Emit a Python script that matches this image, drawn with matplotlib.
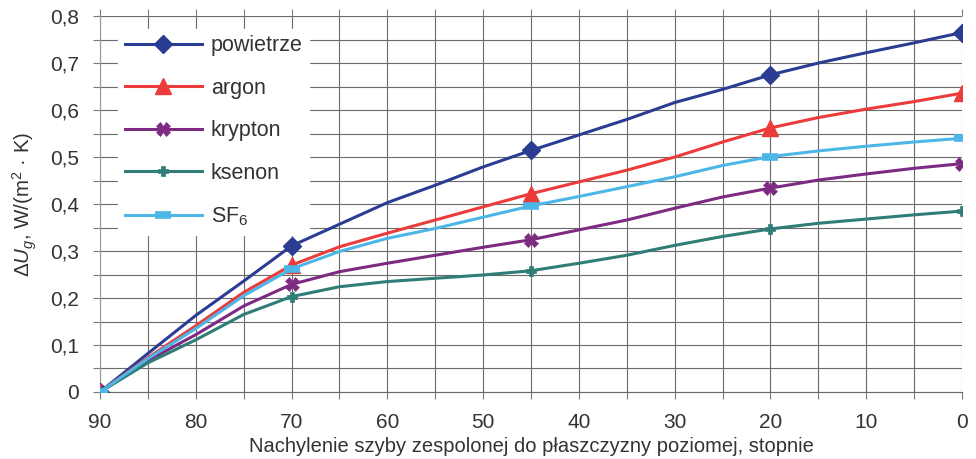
import numpy as np
import matplotlib
matplotlib.use("Agg")
from matplotlib import pyplot as plt
from matplotlib.ticker import MultipleLocator, FuncFormatter

plt.rcParams['font.family'] = ['Liberation Sans', 'DejaVu Sans']
plt.rcParams['mathtext.fontset'] = 'custom'
plt.rcParams['mathtext.rm'] = 'Liberation Sans'
plt.rcParams['mathtext.it'] = 'Liberation Sans:italic'

# tilt angle, degrees (read every 5 degrees off the curves)
angle = [90, 85, 80, 75, 70, 65, 60, 55, 50, 45, 40, 35, 30, 25, 20, 15, 10, 5, 0]
# points that carry a marker in the original chart
marked = [0, 4, 9, 14, 18]

powietrze = [0, 0.082, 0.163, 0.236, 0.311, 0.357, 0.403, 0.440, 0.479, 0.514,
             0.547, 0.580, 0.616, 0.644, 0.675, 0.700, 0.722, 0.743, 0.765]
argon = [0, 0.073, 0.141, 0.212, 0.270, 0.309, 0.338, 0.366, 0.394, 0.422,
         0.447, 0.472, 0.500, 0.532, 0.562, 0.584, 0.602, 0.618, 0.636]
krypton = [0, 0.067, 0.122, 0.183, 0.229, 0.256, 0.274, 0.291, 0.308, 0.324,
           0.345, 0.366, 0.391, 0.415, 0.434, 0.451, 0.464, 0.476, 0.486]
ksenon = [0, 0.062, 0.111, 0.165, 0.203, 0.224, 0.235, 0.242, 0.249, 0.258,
          0.274, 0.291, 0.312, 0.331, 0.347, 0.359, 0.368, 0.377, 0.385]
sf6 = [0, 0.071, 0.135, 0.205, 0.262, 0.299, 0.327, 0.348, 0.372, 0.396,
       0.416, 0.437, 0.458, 0.482, 0.501, 0.513, 0.523, 0.532, 0.540]

labels = ['powietrze', 'argon', 'krypton', 'ksenon', 'SF$_6$']

fig = plt.figure(figsize=(9.76, 4.59), dpi=100)
ax = fig.add_axes([0.1025, 0.146, 0.8832, 0.819])

# series styles: colour, marker, marker size, marker edge width
styles = [
    ('#2b3d92', 'D', 9.5, 1),
    ('#ec3b3b', '^', 11, 1),
    ('#7d2a83', 'X', 10, 0.5),
    ('#2f7d76', 'P', 7, 0.5),
    ('#4cb6e6', '_', 12, 5.5),
]
series = [powietrze, argon, krypton, ksenon, sf6]

for vals, lbl, (col, mk, ms, mew) in zip(series, labels, styles):
    ax.plot(angle, vals, color=col, lw=2.2, marker=mk, ms=ms, mew=mew,
            mec=col, mfc=col, markevery=marked, label=lbl, zorder=3)

ax.set_xlim(90, 0)
ax.set_ylim(0, 0.8)

ax.xaxis.set_major_locator(MultipleLocator(10))
ax.xaxis.set_minor_locator(MultipleLocator(5))
ax.yaxis.set_major_locator(MultipleLocator(0.1))
ax.yaxis.set_minor_locator(MultipleLocator(0.05))
ax.yaxis.set_major_formatter(FuncFormatter(lambda v, p: ('%g' % round(v, 2)).replace('.', ',')))

ax.grid(which='both', color='#6a6a6a', lw=0.8)
ax.set_axisbelow(True)

for side in ['top', 'right']:
    ax.spines[side].set_visible(False)
ax.spines['left'].set_color('#9a9a9a')
ax.spines['bottom'].set_color('#6a6a6a')

ax.tick_params(which='both', direction='out', color='#7a7a7a', width=0.8,
               length=5, top=True, labelsize=15, labelcolor='#333333')
ax.tick_params(axis='x', which='both', pad=10)
ax.tick_params(axis='y', which='both', pad=10)

ax.set_xlabel('Nachylenie szyby zespolonej do płaszczyzny poziomej, stopnie',
              fontsize=14.5, color='#333333', labelpad=4)
ax.set_ylabel(r'$\Delta U_g$, W/(m$^2$ · K)', fontsize=14.8, color='#333333',
              labelpad=8)

leg = ax.legend(loc='upper left', bbox_to_anchor=(0.006, 1.0), fontsize=15.5,
                frameon=True, fancybox=False, edgecolor='white',
                facecolor='white', framealpha=1, handlelength=3.6,
                labelspacing=1.0, borderpad=0.3, borderaxespad=0.6,
                handletextpad=0.4)
leg.set_zorder(2.5)
for t in leg.get_texts():
    t.set_color('#333333')

fig.savefig('out.png', dpi=100)
